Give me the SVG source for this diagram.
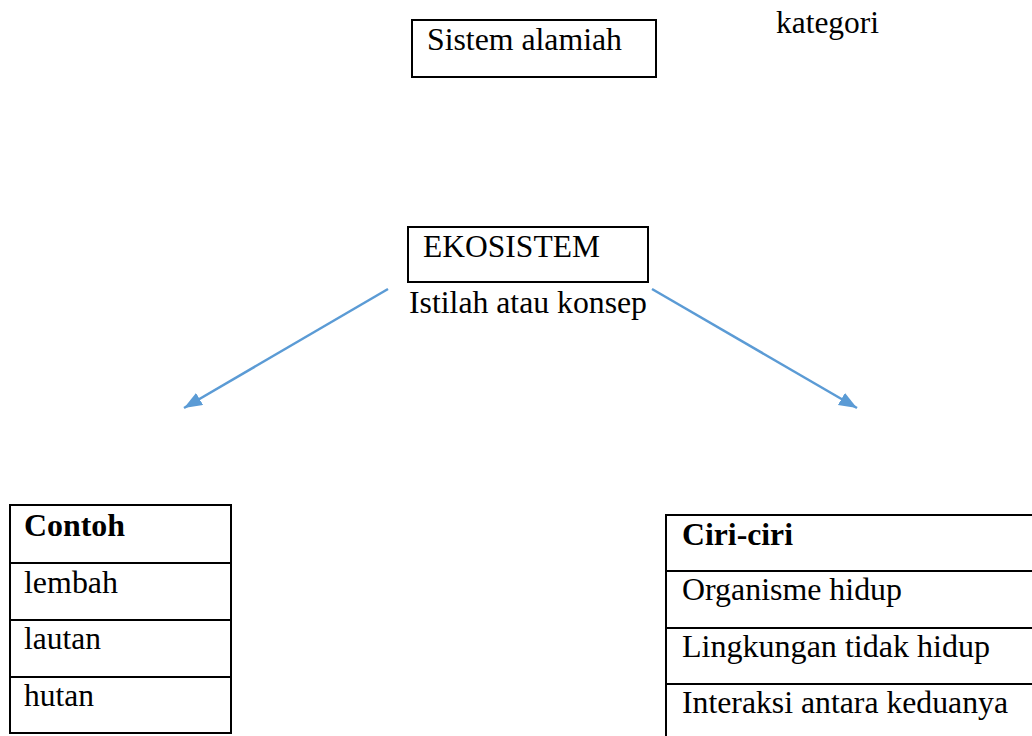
<svg xmlns="http://www.w3.org/2000/svg" width="1032" height="736" viewBox="0 0 1032 736" font-family="'Liberation Serif', 'Times New Roman', Times, serif">
<style>
  text { font-family: 'Liberation Serif', 'Times New Roman', Times, serif; font-size: 31.5px; fill: #000; }
  .b { font-weight: bold; }
  .box { fill: #fff; stroke: #000; stroke-width: 2; }
  .rule { stroke: #000; stroke-width: 2; }
  .conn { stroke: #5B9BD5; stroke-width: 2.5; fill: none; }
</style>
<defs>
  <marker id="ah" markerUnits="userSpaceOnUse" markerWidth="20" markerHeight="16" refX="18" refY="7" orient="auto">
    <path d="M0,0 L18,7 L0,14 z" fill="#5B9BD5"/>
  </marker>
</defs>
<rect width="1032" height="736" fill="#fff"/>

<g id="sistem-alamiah">
  <rect class="box" x="412" y="20" width="244" height="57"/>
  <text x="427" y="50" textLength="195" lengthAdjust="spacingAndGlyphs">Sistem alamiah</text>
</g>

<g id="kategori">
  <text x="776" y="33" textLength="103" lengthAdjust="spacingAndGlyphs">kategori</text>
</g>

<g id="ekosistem">
  <rect class="box" x="408" y="227" width="240" height="55"/>
  <text x="423" y="257" textLength="177" lengthAdjust="spacingAndGlyphs">EKOSISTEM</text>
</g>

<g id="istilah">
  <text x="409" y="313" textLength="238" lengthAdjust="spacingAndGlyphs">Istilah atau konsep</text>
</g>

<g id="connectors">
  <line class="conn" x1="388" y1="289" x2="184" y2="408" marker-end="url(#ah)"/>
  <line class="conn" x1="652" y1="289" x2="857" y2="408" marker-end="url(#ah)"/>
</g>

<g id="contoh">
  <rect class="box" x="10" y="505" width="221" height="228"/>
  <line class="rule" x1="10" y1="563" x2="231" y2="563"/>
  <line class="rule" x1="10" y1="620" x2="231" y2="620"/>
  <line class="rule" x1="10" y1="677" x2="231" y2="677"/>
  <text class="b" x="24" y="536" textLength="101" lengthAdjust="spacingAndGlyphs">Contoh</text>
  <text x="24" y="593" textLength="94" lengthAdjust="spacingAndGlyphs">lembah</text>
  <text x="24" y="649" textLength="77" lengthAdjust="spacingAndGlyphs">lautan</text>
  <text x="24" y="706" textLength="70" lengthAdjust="spacingAndGlyphs">hutan</text>
</g>

<g id="ciri-ciri">
  <rect class="box" x="666" y="515" width="380" height="240"/>
  <line class="rule" x1="666" y1="571" x2="1032" y2="571"/>
  <line class="rule" x1="666" y1="628" x2="1032" y2="628"/>
  <line class="rule" x1="666" y1="684" x2="1032" y2="684"/>
  <text class="b" x="682" y="545" textLength="111" lengthAdjust="spacingAndGlyphs">Ciri-ciri</text>
  <text x="682" y="600" textLength="220" lengthAdjust="spacingAndGlyphs">Organisme hidup</text>
  <text x="682" y="657" textLength="308" lengthAdjust="spacingAndGlyphs">Lingkungan tidak hidup</text>
  <text x="682" y="713" textLength="326" lengthAdjust="spacingAndGlyphs">Interaksi antara keduanya</text>
</g>
</svg>
